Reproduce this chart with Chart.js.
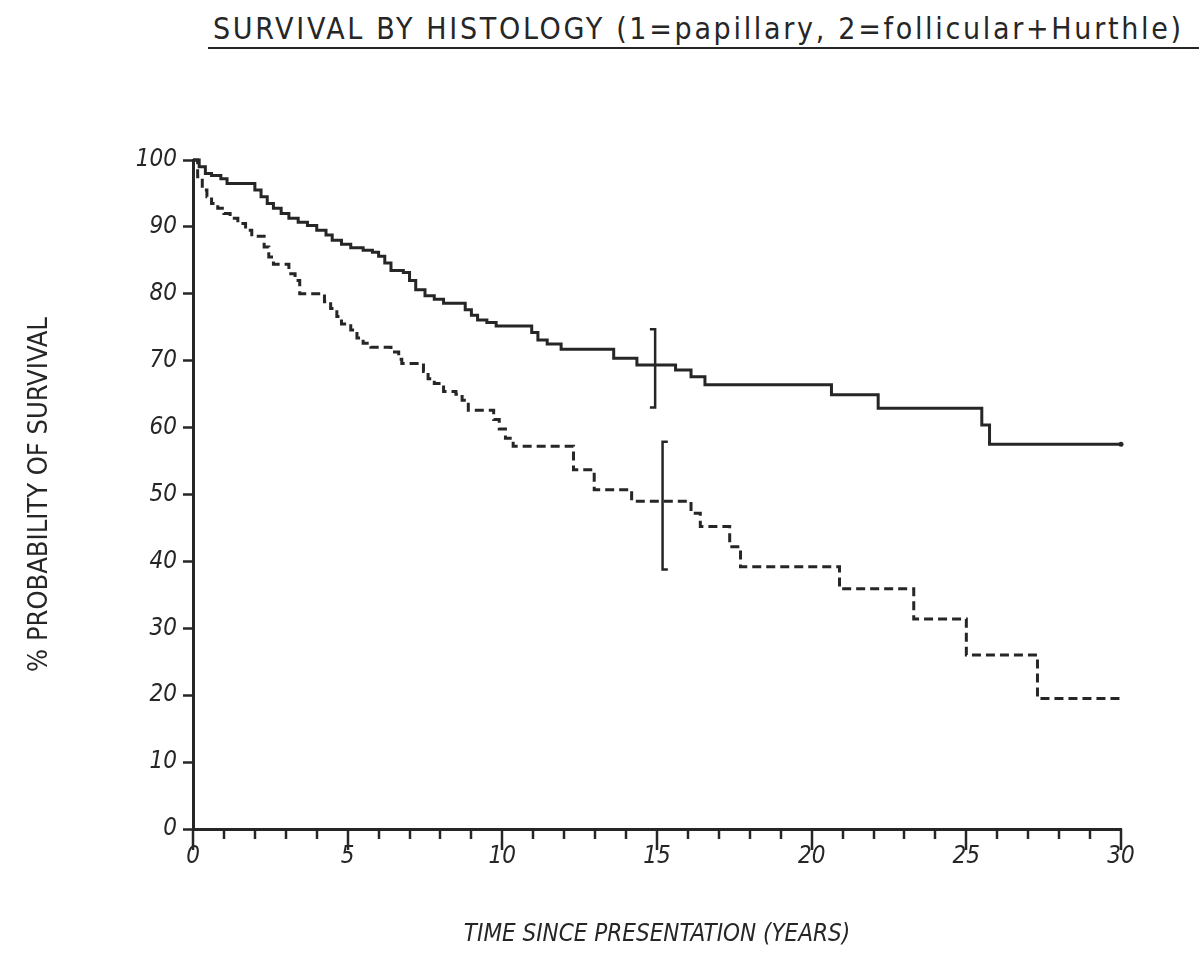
<!DOCTYPE html>
<html>
<head>
<meta charset="utf-8">
<script src="https://cdn.jsdelivr.net/npm/chart.js@4.4.1/dist/chart.umd.min.js"></script>
<style>
html,body{margin:0;padding:0;background:#fff;}
#wrap{position:relative;width:1204px;height:970px;overflow:hidden;}
#title{position:absolute;left:208px;top:11px;width:986px;padding-left:5px;
  font-family:'DejaVu Sans Condensed','DejaVu Sans',sans-serif;font-stretch:condensed;
  font-size:30px;line-height:36px;letter-spacing:2.7px;color:#262626;border-bottom:2.5px solid #262626;white-space:nowrap;}
canvas{position:absolute;left:0;top:0;}
</style>
</head>
<body>
<div id="wrap">
  <div id="title">SURVIVAL BY HISTOLOGY (1=papillary, 2=follicular+Hurthle)</div>
  <canvas id="c" width="1204" height="970"></canvas>
</div>
<script>
// ---- data ----
const papTime = [0,0.2,0.4,0.6,0.9,1.1,2.0,2.2,2.4,2.6,2.85,3.1,3.4,3.7,4.0,4.3,4.5,4.8,5.1,5.5,5.8,6.0,6.2,6.4,6.8,7.0,7.2,7.5,7.8,8.1,8.8,9.0,9.2,9.5,9.8,10.95,11.15,11.45,11.9,13.6,14.35,15.6,16.1,16.55,20.64,22.15,25.5,25.75,30];
const papSurv = [100,99,98,97.7,97.2,96.5,95.5,94.5,93.5,92.8,92,91.3,90.7,90.2,89.5,88.8,88,87.4,86.9,86.5,86.2,85.6,84.6,83.5,83.2,82,80.6,79.7,79.2,78.6,77.6,76.8,76.1,75.7,75.2,74.2,73.1,72.5,71.7,70.35,69.35,68.6,67.6,66.4,64.9,62.9,60.4,57.5,57.5];

const folTime = [0,0.15,0.3,0.45,0.6,0.8,1.0,1.2,1.45,1.7,1.9,2.3,2.45,2.6,3.1,3.3,3.45,4.25,4.45,4.65,4.8,5.1,5.3,5.5,5.75,6.4,6.65,6.75,7.45,7.6,7.8,8.1,8.5,8.7,8.9,9.72,9.9,10.1,10.35,12.3,12.97,14.18,16.1,16.4,17.35,17.7,20.9,23.3,25.0,27.3,30];
const folSurv = [100,97.5,95.5,94.5,93.5,92.8,92,91.3,90.5,89.5,88.6,87,85.5,84.4,83,82,80,78.8,77.8,76.6,75.5,74.6,73.4,72.6,72.0,71.3,70.2,69.6,68.4,67.3,66.6,65.4,65.0,64.1,62.6,61.2,59.8,58.4,57.2,53.7,50.7,49.0,47.2,45.2,42.2,39.2,35.9,31.4,26.0,19.5,19.5];

// 95% confidence bars at ~15 years
const ciTime = [14.94, 15.18];
const ciLow  = [63.0, 38.8];
const ciHigh = [74.7, 57.9];
const ciCapDir = [-1, 1];
const ciCapLen = 0.17;

const xTickLabels = [0,5,10,15,20,25,30];
const yTickLabels = [0,10,20,30,40,50,60,70,80,90,100];
const xMinorStep = 1;

const INK = '#262626';
const tickFont = {family:"'DejaVu Sans Condensed','DejaVu Sans',sans-serif", size:24, style:'italic'};

function pts(t, s){ return t.map((v,i)=>({x:v, y:s[i]})); }
function ciPts(i){
  const c = ciTime[i] + ciCapDir[i]*ciCapLen;
  return [{x:c,y:ciHigh[i]},{x:ciTime[i],y:ciHigh[i]},{x:ciTime[i],y:ciLow[i]},{x:c,y:ciLow[i]}];
}

const xTickPlugin = {
  id:'xticks',
  afterDraw(chart){
    const s = chart.scales.x, ctx = chart.ctx, yb = chart.chartArea.bottom;
    ctx.save(); ctx.strokeStyle = INK; ctx.lineWidth = 2.5;
    for(let v = s.min; v <= s.max + 1e-9; v += xMinorStep){
      const px = Math.round(s.getPixelForValue(v));
      const len = xTickLabels.includes(v) ? 21 : 10;
      ctx.beginPath(); ctx.moveTo(px, yb); ctx.lineTo(px, yb+len); ctx.stroke();
    }
    ctx.restore();
  }
};

new Chart(document.getElementById('c'), {
  type:'line',
  data:{
    datasets:[
      {data:pts(papTime,papSurv), stepped:true, borderColor:INK, borderWidth:3, fill:false, clip:false,
        pointRadius:(c)=>c.dataIndex===papTime.length-1?2.5:0, pointBackgroundColor:INK, pointBorderWidth:0},
      {data:pts(folTime,folSurv), stepped:true, borderColor:INK, borderWidth:3, borderDash:[9,5], pointRadius:0, fill:false, clip:false},
      {data:ciPts(0), borderColor:INK, borderWidth:2.5, pointRadius:0, fill:false, clip:false},
      {data:ciPts(1), borderColor:INK, borderWidth:2.5, pointRadius:0, fill:false, clip:false}
    ]
  },
  options:{
    responsive:false, animation:false, devicePixelRatio:1,
    layout:{padding:{top:160, right:83, bottom:0, left:0}},
    plugins:{legend:{display:false}, tooltip:{enabled:false}, title:{display:false}},
    scales:{
      x:{type:'linear', min:0, max:30,
        afterBuildTicks(s){ s.ticks = xTickLabels.map(v=>({value:v})); },
        afterFit(s){ s.height = 141; s.paddingLeft = 0; s.paddingRight = 0; },
        grid:{drawOnChartArea:false, drawTicks:false},
        border:{display:true, color:INK, width:3},
        ticks:{color:INK, font:tickFont, padding:13, maxRotation:0},
        title:{display:true, text:'TIME SINCE PRESENTATION (YEARS)', color:INK,
          font:{family:"'DejaVu Sans Condensed','DejaVu Sans',sans-serif", size:24, style:'italic'}, padding:{top:0,bottom:21}}
      },
      y:{type:'linear', min:0, max:100,
        afterBuildTicks(s){ s.ticks = yTickLabels.map(v=>({value:v})); },
        afterFit(s){ s.width = 193; s.paddingTop = 0; s.paddingBottom = 0; },
        grid:{drawOnChartArea:false, drawTicks:true, tickLength:10, tickWidth:2.5, tickColor:INK},
        border:{display:true, color:INK, width:3},
        ticks:{color:INK, font:tickFont, padding:6},
        title:{display:true, text:'% PROBABILITY OF SURVIVAL', color:INK,
          font:{family:"'DejaVu Sans Condensed','DejaVu Sans',sans-serif", size:27}, padding:{top:24,bottom:0}}
      }
    }
  },
  plugins:[xTickPlugin]
});
</script>
</body>
</html>
